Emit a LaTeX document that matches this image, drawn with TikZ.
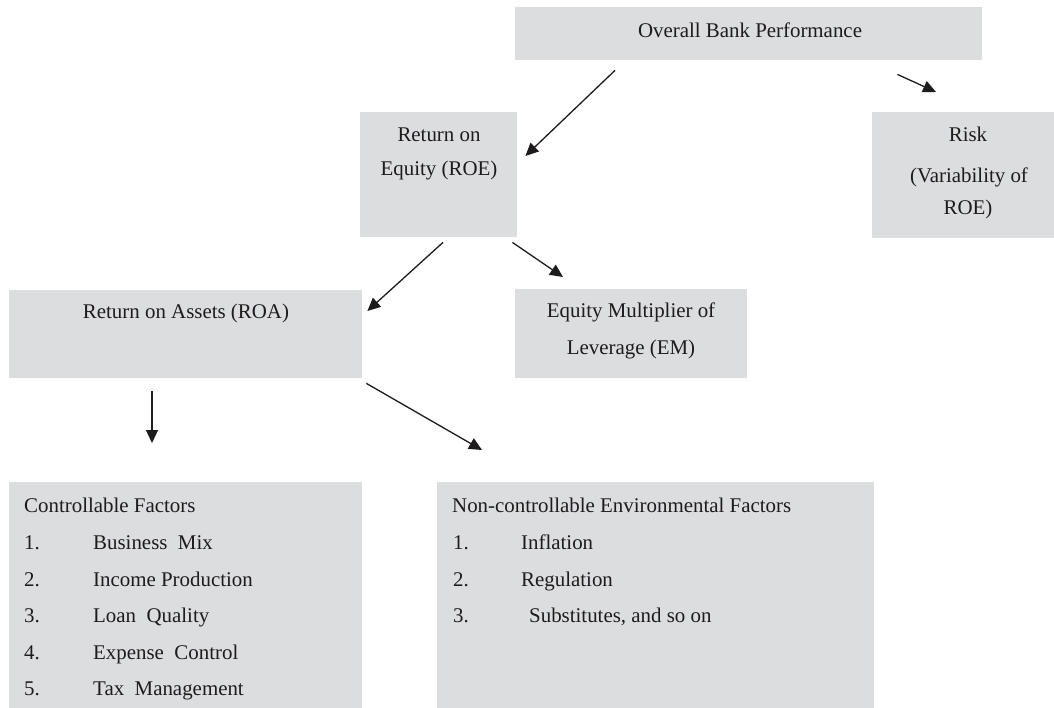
\documentclass[tikz,border=0pt]{standalone}
\usepackage{fontspec}
\setmainfont{Liberation Serif}
\usetikzlibrary{arrows.meta}
\definecolor{boxgray}{RGB}{220,221,223}
\definecolor{ink}{RGB}{30,27,28}
\begin{document}
\begin{tikzpicture}[x=1pt,y=-1pt,
  box/.style={fill=boxgray,draw=none,inner sep=0pt,anchor=north west},
  txt/.style={inner sep=0pt,text=ink,font=\fontsize{20.9}{25}\selectfont},
  conn/.style={draw=ink,line width=1.3pt,-{Triangle[length=13pt,width=12pt]}}]
\useasboundingbox (0,0) rectangle (1054,708);
% boxes
\node[box,minimum width=467pt,minimum height=53pt] (top) at (515,7) {};
\node[box,minimum width=157pt,minimum height=125pt] (roe) at (360,112) {};
\node[box,minimum width=182pt,minimum height=126pt] (risk) at (872,112) {};
\node[box,minimum width=353pt,minimum height=88pt] (roa) at (9,290) {};
\node[box,minimum width=232pt,minimum height=89pt] (em) at (515,289) {};
\node[box,minimum width=353pt,minimum height=226pt] (ctrl) at (9,482) {};
\node[box,minimum width=437pt,minimum height=226pt] (nc) at (437,482) {};
% texts
\node[txt,anchor=base] (t1) at (750,38) {Overall Bank Performance};
\node[txt,anchor=base] (t2) at (439,142) {Return on};
\node[txt,anchor=base] (t3) at (439,176) {Equity (ROE)};
\node[txt,anchor=base] (t4) at (968,142) {Risk};
\node[txt,anchor=base] (t5) at (969,183) {(Variability of};
\node[txt,anchor=base] (t6) at (968,215) {ROE)};
\node[txt,anchor=base] (t7) at (186,319) {Return on Assets (ROA)};
\node[txt,anchor=base] (t8) at (631,318) {Equity Multiplier of};
\node[txt,anchor=base] (t9) at (631,354) {Leverage (EM)};
% controllable list
\node[txt,anchor=base west] (c0) at (24,512) {Controllable Factors};
\node[txt,anchor=base west] (c1n) at (24,549) {1.};
\node[txt,anchor=base west] (c1) at (93,549) {Business\ \ Mix};
\node[txt,anchor=base west] (c2n) at (24,586) {2.};
\node[txt,anchor=base west] (c2) at (93,586) {Income Production};
\node[txt,anchor=base west] (c3n) at (24,622) {3.};
\node[txt,anchor=base west] (c3) at (93,622) {Loan\ \ Quality};
\node[txt,anchor=base west] (c4n) at (24,659) {4.};
\node[txt,anchor=base west] (c4) at (93,659) {Expense\ \ Control};
\node[txt,anchor=base west] (c5n) at (24,695) {5.};
\node[txt,anchor=base west] (c5) at (93,695) {Tax\ \ Management};
% non-controllable list
\node[txt,anchor=base west] (n0) at (452,512) {Non-controllable Environmental Factors};
\node[txt,anchor=base west] (n1n) at (453,549) {1.};
\node[txt,anchor=base west] (n1) at (521,549) {Inflation};
\node[txt,anchor=base west] (n2n) at (453,586) {2.};
\node[txt,anchor=base west] (n2) at (521,586) {Regulation};
\node[txt,anchor=base west] (n3n) at (453,622) {3.};
\node[txt,anchor=base west] (n3) at (529,622) {Substitutes, and so on};
% connectors
\draw[conn] ([xshift=100pt,yshift=-10pt]top.south west) -- ([xshift=8pt,yshift=-44pt]roe.north east);
\draw[conn] ([xshift=-85pt,yshift=-14pt]top.south east) -- ([xshift=64pt,yshift=20pt]risk.north west);
\draw[conn] ([xshift=83pt,yshift=-5pt]roe.south west) -- ([xshift=5pt,yshift=-21pt]roa.north east);
\draw[conn] ([xshift=-5pt,yshift=-5pt]roe.south east) -- ([xshift=48pt,yshift=12pt]em.north west);
\draw[conn] ([xshift=143pt,yshift=-13pt]roa.south west) -- ([xshift=143pt,yshift=39pt]ctrl.north west);
\draw[conn] ([xshift=4pt,yshift=-5pt]roa.south east) -- ([xshift=45pt,yshift=32pt]nc.north west);
\end{tikzpicture}
\end{document}
